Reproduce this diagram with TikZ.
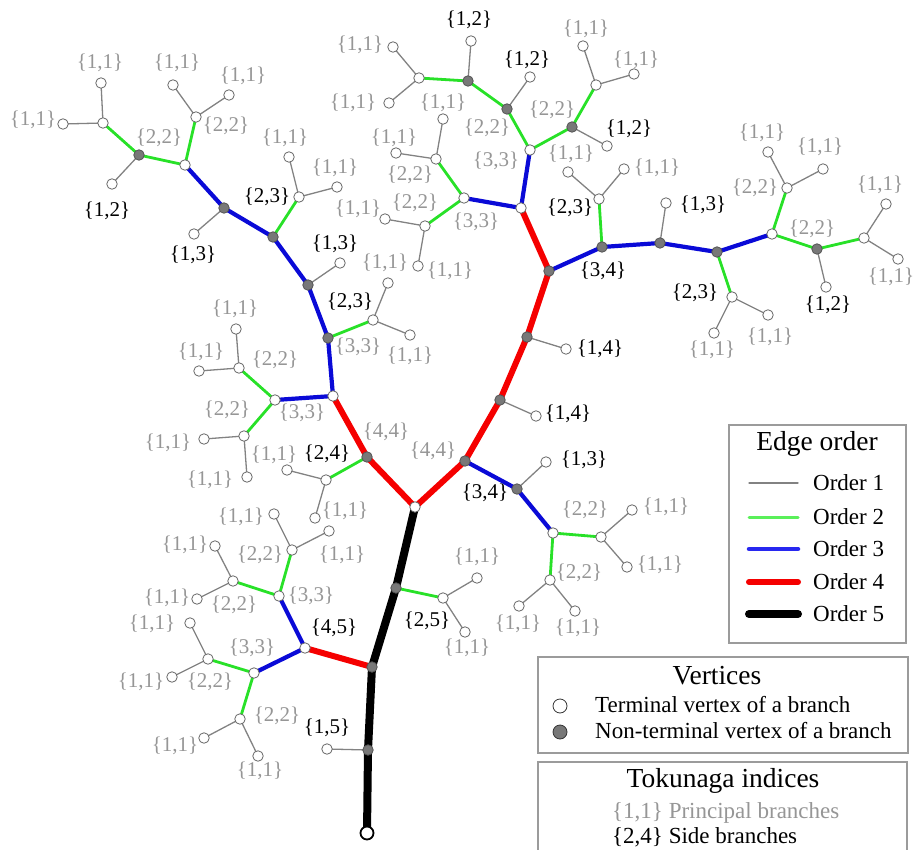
\documentclass[tikz,border=0pt]{standalone}
\usepackage{fontspec}
\setmainfont{Liberation Serif}
\usetikzlibrary{backgrounds}
\definecolor{oone}{RGB}{130,130,130}
\definecolor{ogreen}{RGB}{40,225,40}
\definecolor{ogreenl}{RGB}{90,240,90}
\definecolor{oblue}{RGB}{10,10,215}
\definecolor{obluel}{RGB}{40,40,240}
\definecolor{ored}{RGB}{245,0,0}
\definecolor{lgray}{RGB}{150,150,150}
\definecolor{nvfill}{RGB}{120,120,120}
\definecolor{boxgray}{RGB}{155,155,155}
\newcommand\edg[3]{\draw[#1] (#2.center) -- (#3.center);}
\newcommand\lbP[3]{\node[plab] (#1) at (#2) {\{#3\}};}
\newcommand\lbS[3]{\node[slab] (#1) at (#2) {\{#3\}};}
\begin{document}
\begin{tikzpicture}[x=1pt,y=-1pt,
 tv/.style={circle,draw=oone!80!black,fill=white,inner sep=0pt,minimum size=10.5pt,line width=0.8pt},
 nv/.style={tv,fill=nvfill,draw=nvfill!70!black},
 rootv/.style={circle,draw=black,fill=white,inner sep=0pt,minimum size=13pt,line width=1.8pt},
 e1/.style={draw=oone,line width=1.3pt},
 e2/.style={draw=ogreen,line width=2.8pt},
 e3/.style={draw=oblue,line width=4.2pt},
 e4/.style={draw=ored,line width=6pt},
 e5/.style={draw=black,line width=8pt},
 lo1/.style={draw=oone,line width=1.3pt,line cap=round},
 lo2/.style={draw=ogreenl,line width=3pt,line cap=round},
 lo3/.style={draw=obluel,line width=4.5pt,line cap=round},
 lo4/.style={draw=ored,line width=6pt,line cap=round},
 lo5/.style={draw=black,line width=8pt,line cap=round},
 plab/.style={text=lgray,font=\fontsize{21}{22}\selectfont,inner sep=0pt},
 slab/.style={text=black,font=\fontsize{21}{22}\selectfont,inner sep=0pt},
 legbox/.style={draw=boxgray,line width=1.5pt,fill=white},
 legtitle/.style={font=\fontsize{27.5}{30}\selectfont,inner sep=0pt},
 legtext/.style={font=\fontsize{23}{25}\selectfont,inner sep=0pt,anchor=west},
 legv/.style={circle,draw=black!80,inner sep=0pt,minimum size=14pt,line width=0.8pt},
]
\useasboundingbox (0,0) rectangle (915,850);

% trunk
\node[rootv] (r0) at (367,833) {};
\node[nv] (t1) at (368,750) {};
\node[nv] (t2) at (372,667) {};
\node[nv] (t3) at (396,588) {};
\node[tv] (t4) at (415,507) {};
\node[tv] (a1) at (327,749) {};
\node[tv] (b1) at (443,598) {};
\node[tv] (b2) at (477,578) {};
\node[tv] (b3) at (465,632) {};
% lower left
\node[tv] (c0) at (305,648) {};
\node[tv] (c1) at (279,596) {};
\node[tv] (c2) at (292,550) {};
\node[tv] (c3) at (274,514) {};
\node[tv] (c4) at (329,531) {};
\node[tv] (c5) at (233,581) {};
\node[tv] (c6) at (215,546) {};
\node[tv] (c7) at (197,599) {};
\node[tv] (d1) at (254,673) {};
\node[tv] (d2) at (208,659) {};
\node[tv] (d3) at (190,623) {};
\node[tv] (d4) at (172,677) {};
\node[tv] (d5) at (240,719) {};
\node[tv] (d6) at (204,738) {};
\node[tv] (d7) at (258,756) {};
% left red
\node[nv] (L1) at (367,457) {};
\node[tv] (L2) at (333,396) {};
\node[tv] (e1n) at (326,480) {};
\node[tv] (e2n) at (287,470) {};
\node[tv] (e3n) at (315,518) {};
% right red
\node[nv] (R1) at (465,461) {};
\node[nv] (R2) at (500,400) {};
\node[nv] (R3) at (527,337) {};
\node[nv] (R4) at (549,271) {};
\node[tv] (R5) at (521,208) {};
\node[tv] (f1) at (536,416) {};
\node[tv] (f2) at (566,349) {};
\node[nv] (g1) at (517,489) {};
\node[tv] (g2) at (546,462) {};
\node[tv] (g3) at (553,533) {};
\node[tv] (g4) at (601,537) {};
\node[tv] (g5) at (632,510) {};
\node[tv] (g6) at (627,567) {};
\node[tv] (g7) at (550,580) {};
\node[tv] (g8) at (519,606) {};
\node[tv] (g9) at (575,611) {};
% left upper
\node[nv] (h1) at (328,338) {};
\node[tv] (h2) at (275,400) {};
\node[tv] (h3) at (239,368) {};
\node[tv] (h4) at (236,329) {};
\node[tv] (h5) at (199,371) {};
\node[tv] (h6) at (244,436) {};
\node[tv] (h7) at (204,439) {};
\node[tv] (h8) at (247,477) {};
\node[tv] (i1) at (373,320) {};
\node[tv] (i2) at (388,283) {};
\node[tv] (i3) at (410,335) {};
\node[nv] (j1) at (308,285) {};
\node[tv] (j2) at (340,263) {};
\node[nv] (j3) at (273,237) {};
\node[tv] (j4) at (299,197) {};
\node[tv] (j5) at (289,157) {};
\node[tv] (j6) at (337,187) {};
\node[nv] (k1) at (224,208) {};
\node[tv] (k2) at (194,234) {};
\node[tv] (k3) at (185,165) {};
\node[tv] (k4) at (196,117) {};
\node[tv] (k5) at (173,85) {};
\node[tv] (k6) at (229,95) {};
\node[nv] (k7) at (139,155) {};
\node[tv] (k8) at (103,123) {};
\node[tv] (k9) at (101,83) {};
\node[tv] (k10) at (63,124) {};
\node[tv] (k11) at (112,184) {};
% upper middle
\node[tv] (m1) at (464,198) {};
\node[tv] (m2) at (436,159) {};
\node[tv] (m3) at (443,119) {};
\node[tv] (m4) at (396,153) {};
\node[tv] (m5) at (425,226) {};
\node[tv] (m6) at (385,219) {};
\node[tv] (m7) at (418,266) {};
\node[tv] (n1) at (530,150) {};
\node[nv] (n2) at (507,109) {};
\node[nv] (n3) at (468,81) {};
\node[tv] (n4) at (530,77) {};
\node[tv] (n5) at (471,41) {};
\node[tv] (n6) at (419,78) {};
\node[tv] (n7) at (393,47) {};
\node[tv] (n8) at (389,103) {};
\node[nv] (o1) at (572,127) {};
\node[tv] (o2) at (596,85) {};
\node[tv] (o3) at (583,46) {};
\node[tv] (o4) at (634,74) {};
\node[tv] (o5) at (607,146) {};
% right blue
\node[nv] (p1) at (602,247) {};
\node[nv] (p2) at (660,243) {};
\node[nv] (p3) at (717,252) {};
\node[tv] (p4) at (772,234) {};
\node[tv] (q1) at (599,199) {};
\node[tv] (q2) at (568,172) {};
\node[tv] (q3) at (624,169) {};
\node[tv] (q4) at (666,203) {};
\node[tv] (s1) at (732,297) {};
\node[tv] (s2) at (714,333) {};
\node[tv] (s3) at (768,315) {};
\node[tv] (u1) at (787,188) {};
\node[tv] (u2) at (768,152) {};
\node[tv] (u3) at (823,169) {};
\node[nv] (u4) at (817,249) {};
\node[tv] (u5) at (864,238) {};
\node[tv] (u6) at (886,204) {};
\node[tv] (u7) at (898,259) {};
\node[tv] (u8) at (826,287) {};

\begin{scope}[on background layer]
% order 1
\edg{e1}{t1}{a1} \edg{e1}{b1}{b2} \edg{e1}{b1}{b3}
\edg{e1}{c2}{c3} \edg{e1}{c2}{c4} \edg{e1}{c5}{c6} \edg{e1}{c5}{c7}
\edg{e1}{d2}{d3} \edg{e1}{d2}{d4} \edg{e1}{d5}{d6} \edg{e1}{d5}{d7}
\edg{e1}{e1n}{e2n} \edg{e1}{e1n}{e3n}
\edg{e1}{R2}{f1} \edg{e1}{R3}{f2} \edg{e1}{g1}{g2}
\edg{e1}{g4}{g5} \edg{e1}{g4}{g6} \edg{e1}{g7}{g8} \edg{e1}{g7}{g9}
\edg{e1}{h3}{h4} \edg{e1}{h3}{h5} \edg{e1}{h6}{h7} \edg{e1}{h6}{h8}
\edg{e1}{i1}{i2} \edg{e1}{i1}{i3} \edg{e1}{j1}{j2} \edg{e1}{j4}{j5} \edg{e1}{j4}{j6}
\edg{e1}{k1}{k2} \edg{e1}{k4}{k5} \edg{e1}{k4}{k6} \edg{e1}{k8}{k9} \edg{e1}{k8}{k10} \edg{e1}{k7}{k11}
\edg{e1}{m2}{m3} \edg{e1}{m2}{m4} \edg{e1}{m5}{m6} \edg{e1}{m5}{m7}
\edg{e1}{n2}{n4} \edg{e1}{n3}{n5} \edg{e1}{n6}{n7} \edg{e1}{n6}{n8}
\edg{e1}{o1}{o5} \edg{e1}{o2}{o3} \edg{e1}{o2}{o4}
\edg{e1}{q1}{q2} \edg{e1}{q1}{q3} \edg{e1}{p2}{q4}
\edg{e1}{s1}{s2} \edg{e1}{s1}{s3}
\edg{e1}{u1}{u2} \edg{e1}{u1}{u3} \edg{e1}{u5}{u6} \edg{e1}{u5}{u7} \edg{e1}{u4}{u8}
% order 2
\edg{e2}{t3}{b1} \edg{e2}{c1}{c2} \edg{e2}{c1}{c5} \edg{e2}{d1}{d2} \edg{e2}{d1}{d5}
\edg{e2}{L1}{e1n} \edg{e2}{g3}{g4} \edg{e2}{g3}{g7}
\edg{e2}{h2}{h3} \edg{e2}{h2}{h6} \edg{e2}{h1}{i1} \edg{e2}{j3}{j4}
\edg{e2}{k3}{k4} \edg{e2}{k3}{k7} \edg{e2}{k7}{k8}
\edg{e2}{m1}{m2} \edg{e2}{m1}{m5} \edg{e2}{n1}{n2} \edg{e2}{n2}{n3} \edg{e2}{n3}{n6}
\edg{e2}{n1}{o1} \edg{e2}{o1}{o2}
\edg{e2}{p1}{q1} \edg{e2}{p3}{s1} \edg{e2}{p4}{u1} \edg{e2}{p4}{u4} \edg{e2}{u4}{u5}
% order 3
\edg{e3}{c0}{c1} \edg{e3}{c0}{d1} \edg{e3}{h2}{L2} \edg{e3}{L2}{h1} \edg{e3}{h1}{j1}
\edg{e3}{j1}{j3} \edg{e3}{j3}{k1} \edg{e3}{k1}{k3}
\edg{e3}{R1}{g1} \edg{e3}{g1}{g3} \edg{e3}{R5}{m1} \edg{e3}{R5}{n1}
\edg{e3}{R4}{p1} \edg{e3}{p1}{p2} \edg{e3}{p2}{p3} \edg{e3}{p3}{p4}
% order 4
\edg{e4}{t2}{c0} \edg{e4}{t4}{L1} \edg{e4}{L1}{L2} \edg{e4}{t4}{R1}
\edg{e4}{R1}{R2} \edg{e4}{R2}{R3} \edg{e4}{R3}{R4} \edg{e4}{R4}{R5}
% order 5
\edg{e5}{r0}{t1} \edg{e5}{t1}{t2} \edg{e5}{t2}{t3} \edg{e5}{t3}{t4}
\end{scope}

% labels
\lbS{la1}{327,728}{1,5}
\lbS{la2}{427,621}{2,5}
\lbP{la3}{477,557}{1,1}
\lbP{la4}{467,648}{1,1}
\lbS{la5}{334,628}{4,5}
\lbP{la6}{311,596}{3,3}
\lbP{la7}{260,555}{2,2}
\lbP{la8}{241,517}{1,1}
\lbP{la9}{342,555}{1,1}
\lbP{la10}{234,605}{2,2}
\lbP{la11}{185,545}{1,1}
\lbP{la12}{167,598}{1,1}
\lbP{la13}{252,648}{3,3}
\lbP{la14}{210,682}{2,2}
\lbP{la15}{152,624}{1,1}
\lbP{la16}{141,682}{1,1}
\lbP{la17}{277,716}{2,2}
\lbP{la18}{175,746}{1,1}
\lbP{la19}{260,771}{1,1}
\lbP{la20}{386,432}{4,4}
\lbS{la21}{327,454}{2,4}
\lbP{la22}{274,455}{1,1}
\lbP{la23}{345,511}{1,1}
\lbP{la24}{433,451}{4,4}
\lbS{la25}{568,414}{1,4}
\lbS{la26}{600,349}{1,4}
\lbS{la27}{485,493}{3,4}
\lbS{la28}{584,460}{1,3}
\lbP{la29}{585,510}{2,2}
\lbP{la30}{666,507}{1,1}
\lbP{la31}{660,565}{1,1}
\lbP{la32}{579,573}{2,2}
\lbP{la33}{518,624}{1,1}
\lbP{la34}{578,628}{1,1}
\lbP{la35}{358,347}{3,3}
\lbP{la36}{302,413}{3,3}
\lbP{la37}{275,360}{2,2}
\lbP{la38}{235,309}{1,1}
\lbP{la39}{201,352}{1,1}
\lbP{la40}{227,410}{2,2}
\lbP{la41}{168,443}{1,1}
\lbP{la42}{210,480}{1,1}
\lbS{la43}{350,302}{2,3}
\lbP{la44}{385,263}{1,1}
\lbP{la45}{410,356}{1,1}
\lbS{la46}{335,244}{1,3}
\lbS{la47}{267,197}{2,3}
\lbP{la48}{285,138}{1,1}
\lbP{la49}{335,168}{1,1}
\lbS{la50}{193,255}{1,3}
\lbP{la51}{226,126}{2,2}
\lbP{la52}{177,63}{1,1}
\lbP{la53}{243,76}{1,1}
\lbP{la54}{159,138}{2,2}
\lbP{la55}{100,63}{1,1}
\lbP{la56}{33,120}{1,1}
\lbS{la57}{107,211}{1,2}
\lbP{la58}{476,222}{3,3}
\lbP{la59}{410,175}{2,2}
\lbP{la60}{443,103}{1,1}
\lbP{la61}{394,138}{1,1}
\lbP{la62}{415,203}{2,2}
\lbP{la63}{358,209}{1,1}
\lbP{la64}{450,271}{1,1}
\lbP{la65}{496,161}{3,3}
\lbP{la66}{487,128}{2,2}
\lbS{la67}{527,60}{1,2}
\lbS{la68}{469,20}{1,2}
\lbP{la69}{360,45}{1,1}
\lbP{la70}{353,103}{1,1}
\lbP{la71}{552,110}{2,2}
\lbP{la72}{586,29}{1,1}
\lbP{la73}{636,60}{1,1}
\lbS{la74}{629,129}{1,2}
\lbS{la75}{603,271}{3,4}
\lbS{la76}{570,208}{2,3}
\lbP{la77}{571,154}{1,1}
\lbP{la78}{657,168}{1,1}
\lbS{la79}{703,205}{1,3}
\lbS{la80}{695,293}{2,3}
\lbP{la81}{712,350}{1,1}
\lbP{la82}{770,337}{1,1}
\lbP{la83}{755,188}{2,2}
\lbP{la84}{762,133}{1,1}
\lbP{la85}{820,147}{1,1}
\lbP{la86}{812,229}{2,2}
\lbP{la87}{880,185}{1,1}
\lbP{la88}{891,277}{1,1}
\lbS{la89}{828,305}{1,2}

% legend: edge order
\node[legbox,minimum width=177pt,minimum height=218pt,anchor=north west] (box1) at (728,424) {};
\node[legtitle] (tt1) at (817,444) {Edge order};
\coordinate (lla1) at (749,483); \coordinate (llb1) at (798,483);
\coordinate (lla2) at (749,517); \coordinate (llb2) at (798,517);
\coordinate (lla3) at (749,549); \coordinate (llb3) at (798,549);
\coordinate (lla4) at (749,582); \coordinate (llb4) at (798,582);
\coordinate (lla5) at (749,614); \coordinate (llb5) at (798,614);
\draw[lo1] (lla1) -- (llb1);
\draw[lo2] (lla2) -- (llb2);
\draw[lo3] (lla3) -- (llb3);
\draw[lo4] (lla4) -- (llb4);
\draw[lo5] (lla5) -- (llb5);
\node[legtext] (lt1) at (813,483) {Order 1};
\node[legtext] (lt2) at (813,517) {Order 2};
\node[legtext] (lt3) at (813,549) {Order 3};
\node[legtext] (lt4) at (813,582) {Order 4};
\node[legtext] (lt5) at (813,614) {Order 5};
% legend: vertices
\node[legbox,minimum width=370pt,minimum height=96pt,anchor=north west] (box2) at (537,656) {};
\node[legtitle] (tt2) at (717,676) {Vertices};
\node[legv,fill=white] (lv1) at (560,706) {};
\node[legtext] (lvt1) at (595,705) {Terminal vertex of a branch};
\node[legv,fill=nvfill] (lv2) at (560,732) {};
\node[legtext] (lvt2) at (595,731) {Non-terminal vertex of a branch};
% legend: Tokunaga
\node[legbox,minimum width=369pt,minimum height=110pt,anchor=north west] (box3) at (537,761) {};
\node[legtitle] (tt3) at (723,781) {Tokunaga indices};
\node[legtext,text=lgray] (tk1) at (612,813) {\{1,1\} Principal branches};
\node[legtext] (tk2) at (612,837) {\{2,4\} Side branches};
\end{tikzpicture}
\end{document}
